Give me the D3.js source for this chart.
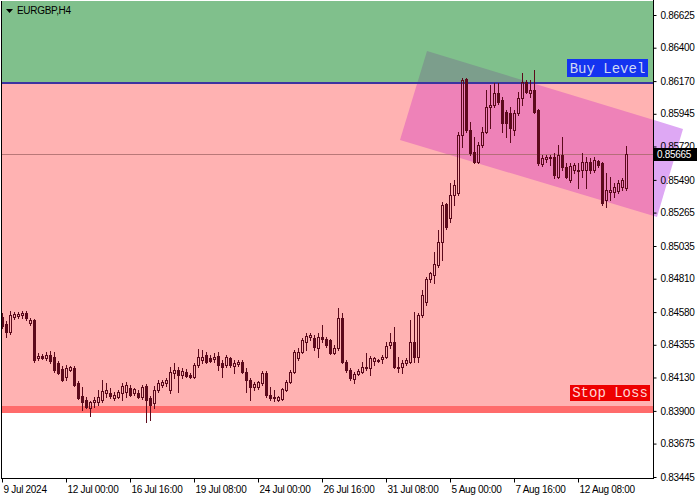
<!DOCTYPE html>
<html><head><meta charset="utf-8">
<script src="https://cdn.jsdelivr.net/npm/d3@7/dist/d3.min.js"></script>
<style>html,body{margin:0;padding:0;background:#fff;}svg{display:block;}</style>
</head><body>
<script>
const symbolLabel = "EURGBP,H4";
const opens = [0.84547,0.84499,0.84444,0.84547,0.84554,0.84561,0.84574,0.84506,0.84527,0.84265,
0.84279,0.84265,0.84286,0.84272,0.84230,0.84189,0.84135,0.84183,0.84196,0.84093,
0.84004,0.83976,0.83921,0.83962,0.83962,0.83976,0.84024,0.84024,0.83990,0.83997,
0.84024,0.84031,0.84059,0.84024,0.84024,0.83997,0.84073,0.83990,0.83955,0.84045,
0.84080,0.84093,0.84045,0.84162,0.84183,0.84148,0.84169,0.84148,0.84135,0.84217,
0.84251,0.84286,0.84265,0.84258,0.84279,0.84230,0.84217,0.84265,0.84210,0.84223,
0.84237,0.84169,0.84114,0.84066,0.84066,0.84093,0.84162,0.84011,0.83990,0.83976,
0.83983,0.84045,0.84100,0.84169,0.84265,0.84306,0.84375,0.84410,0.84403,0.84334,
0.84410,0.84396,0.84389,0.84299,0.84334,0.84540,0.84237,0.84183,0.84121,0.84155,
0.84169,0.84203,0.84196,0.84244,0.84244,0.84258,0.84272,0.84355,0.84375,0.84203,
0.84203,0.84230,0.84237,0.84375,0.84272,0.84561,0.84650,0.84809,0.84837,0.84905,
0.85063,0.85324,0.85228,0.85387,0.85400,0.85800,0.86185,0.85834,0.85682,0.85613,
0.85731,0.85820,0.85992,0.86006,0.86088,0.86040,0.85957,0.85950,0.85834,0.85950,
0.86054,0.86164,0.86088,0.86109,0.85971,0.85599,0.85634,0.85648,0.85648,0.85511,
0.85662,0.85579,0.85490,0.85559,0.85559,0.85559,0.85559,0.85613,0.85559,0.85620,
0.85606,0.85352,0.85407,0.85407,0.85414,0.85442,0.85435];
const highs = [0.84574,0.84520,0.84588,0.84581,0.84581,0.84588,0.84588,0.84540,0.84533,0.84299,
0.84292,0.84306,0.84313,0.84306,0.84244,0.84210,0.84217,0.84210,0.84210,0.84107,
0.84066,0.83997,0.83969,0.83997,0.84045,0.84114,0.84093,0.84059,0.84031,0.84045,
0.84093,0.84100,0.84080,0.84059,0.84045,0.84080,0.84086,0.84004,0.84073,0.84114,
0.84114,0.84128,0.84203,0.84230,0.84203,0.84196,0.84189,0.84162,0.84230,0.84327,
0.84320,0.84306,0.84286,0.84299,0.84306,0.84251,0.84286,0.84272,0.84251,0.84251,
0.84251,0.84196,0.84128,0.84100,0.84107,0.84176,0.84176,0.84066,0.84045,0.84004,
0.84059,0.84114,0.84183,0.84320,0.84334,0.84403,0.84437,0.84437,0.84424,0.84437,
0.84493,0.84410,0.84396,0.84355,0.84609,0.84574,0.84251,0.84196,0.84169,0.84189,
0.84237,0.84299,0.84279,0.84272,0.84258,0.84286,0.84375,0.84437,0.84479,0.84272,
0.84251,0.84265,0.84527,0.84581,0.84574,0.84733,0.84823,0.84857,0.84994,0.85146,
0.85338,0.85331,0.85469,0.85490,0.85820,0.86192,0.86192,0.85889,0.85786,0.85751,
0.85855,0.86109,0.86144,0.86157,0.86157,0.86061,0.85971,0.85992,0.85971,0.86095,
0.86226,0.86178,0.86178,0.86247,0.85978,0.85662,0.85662,0.85662,0.85676,0.85731,
0.85786,0.85606,0.85606,0.85606,0.85606,0.85676,0.85648,0.85641,0.85648,0.85627,
0.85613,0.85538,0.85511,0.85469,0.85490,0.85504,0.85724];
const lows = [0.84472,0.84410,0.84430,0.84533,0.84540,0.84540,0.84527,0.84493,0.84237,0.84251,
0.84258,0.84251,0.84230,0.84169,0.84155,0.84107,0.84114,0.84176,0.84073,0.83983,
0.83907,0.83921,0.83866,0.83928,0.83942,0.83962,0.83997,0.83990,0.83976,0.83990,
0.83976,0.83997,0.84004,0.84011,0.83990,0.83983,0.83825,0.83839,0.83921,0.84031,
0.84066,0.84073,0.84024,0.84128,0.84031,0.84128,0.84135,0.84128,0.84128,0.84203,
0.84230,0.84230,0.84237,0.84237,0.84183,0.84135,0.84203,0.84203,0.84162,0.84210,
0.84162,0.84031,0.83976,0.84045,0.84052,0.84080,0.83997,0.83976,0.83969,0.83969,
0.83976,0.84038,0.84093,0.84162,0.84251,0.84299,0.84320,0.84389,0.84320,0.84272,
0.84375,0.84341,0.84292,0.84292,0.84320,0.84230,0.84169,0.84114,0.84093,0.84148,
0.84162,0.84183,0.84148,0.84217,0.84237,0.84230,0.84265,0.84334,0.84196,0.84169,
0.84162,0.84217,0.84230,0.84237,0.84237,0.84547,0.84630,0.84788,0.84781,0.84891,
0.84939,0.85153,0.85201,0.85318,0.85387,0.85717,0.85820,0.85662,0.85606,0.85606,
0.85717,0.85813,0.85848,0.85992,0.86012,0.85820,0.85786,0.85751,0.85800,0.85937,
0.86006,0.86088,0.86061,0.85950,0.85593,0.85586,0.85613,0.85593,0.85504,0.85504,
0.85559,0.85504,0.85476,0.85538,0.85435,0.85511,0.85435,0.85538,0.85545,0.85579,
0.85318,0.85304,0.85352,0.85373,0.85400,0.85421,0.85421];
const closes = [0.84486,0.84444,0.84561,0.84567,0.84567,0.84574,0.84540,0.84527,0.84251,0.84279,
0.84265,0.84286,0.84244,0.84183,0.84162,0.84114,0.84196,0.84203,0.84080,0.83990,
0.83962,0.83928,0.83962,0.83976,0.83997,0.84038,0.84045,0.84004,0.84011,0.84031,
0.84073,0.84080,0.84011,0.84052,0.83997,0.84066,0.83976,0.83942,0.84045,0.84093,
0.84100,0.84114,0.84169,0.84183,0.84148,0.84176,0.84141,0.84135,0.84217,0.84272,
0.84272,0.84237,0.84244,0.84272,0.84217,0.84203,0.84272,0.84217,0.84230,0.84237,
0.84169,0.84114,0.84066,0.84086,0.84100,0.84162,0.84011,0.83990,0.83997,0.83997,
0.84052,0.84100,0.84169,0.84306,0.84306,0.84389,0.84417,0.84424,0.84341,0.84410,
0.84396,0.84355,0.84299,0.84334,0.84540,0.84237,0.84183,0.84128,0.84155,0.84176,
0.84203,0.84196,0.84265,0.84265,0.84251,0.84272,0.84348,0.84375,0.84203,0.84196,
0.84230,0.84251,0.84375,0.84272,0.84561,0.84699,0.84809,0.84850,0.84911,0.85063,
0.85318,0.85167,0.85387,0.85456,0.85800,0.86178,0.85834,0.85676,0.85613,0.85731,
0.85820,0.85992,0.86006,0.86088,0.86026,0.85882,0.85882,0.85848,0.85950,0.86054,
0.86164,0.86095,0.86109,0.85957,0.85606,0.85641,0.85648,0.85641,0.85524,0.85662,
0.85579,0.85511,0.85586,0.85593,0.85552,0.85613,0.85613,0.85559,0.85627,0.85593,
0.85331,0.85421,0.85421,0.85442,0.85469,0.85490,0.85665];
const yTickValues = [0.86625,0.86400,0.86170,0.85945,0.85720,0.85490,0.85265,0.85035,0.84810,0.84580,0.84355,0.84130,0.83900,0.83675,0.83445];
const xTickIndex = [0,16,32,48,64,80,96,112,128,144];
const xTickLabels = ["9 Jul 2024","12 Jul 00:00","16 Jul 16:00","19 Jul 08:00","24 Jul 00:00","26 Jul 16:00","31 Jul 08:00","5 Aug 00:00","7 Aug 16:00","12 Aug 08:00"];
const buyLevel = 0.86157;
const stopLoss = 0.83910;
const currentPrice = 0.85665;
// channel corners: [bar index, price]
const channelCorners = [[106.25,0.86377],[170.25,0.85841],[163.75,0.85235],[99.5,0.85765]];

const W = 700, H = 500;
const plotL = 2, plotR = 653, plotT = 1, plotB = 478;
const svg = d3.select("body").append("svg").attr("width",W).attr("height",H);
const x = d3.scaleLinear().domain([0,156]).range([2,626]);
const y = d3.scaleLinear().domain([0.83445,0.86625]).range([477,15]);

svg.append("rect").attr("width",W).attr("height",H).attr("fill","#fff");
const yBuy = Math.round(y(buyLevel)), ySL = Math.round(y(stopLoss));
svg.append("rect").attr("x",plotL).attr("y",plotT).attr("width",plotR-plotL).attr("height",yBuy-plotT).attr("fill","#80c08c");
svg.append("rect").attr("x",plotL).attr("y",yBuy).attr("width",plotR-plotL).attr("height",ySL-yBuy).attr("fill","#ffb2b2");

const defs = svg.append("defs");
function clip(id,x0,y0,w,h){defs.append("clipPath").attr("id",id).append("rect").attr("x",x0).attr("y",y0).attr("width",w).attr("height",h);}
clip("cG",plotL,plotT,plotR-plotL,yBuy-plotT);
clip("cP",plotL,yBuy,plotR-plotL,ySL-yBuy);
clip("cO",plotR+1,0,W-plotR,H);
const poly = channelCorners.map(d=>[x(d[0]),y(d[1])].join(",")).join(" ");
[["cG","#7c9e8c"],["cP","#ee82b8"],["cO","#dea8f4"]].forEach(([id,col])=>{
  svg.append("polygon").attr("points",poly).attr("fill",col).attr("clip-path",`url(#${id})`);
});

// stop loss band
svg.append("rect").attr("x",plotL).attr("y",ySL-3).attr("width",plotR-plotL).attr("height",7).attr("fill","#ff6b6b");
// current price line
svg.append("line").attr("x1",plotL).attr("x2",plotR).attr("y1",Math.round(y(currentPrice))+0.5).attr("y2",Math.round(y(currentPrice))+0.5)
  .attr("stroke","#a86a6a").attr("stroke-width",1).attr("opacity",0.8);
// buy level line
svg.append("rect").attr("x",plotL).attr("y",yBuy-1).attr("width",plotR-plotL).attr("height",2).attr("fill","#3c34a0");

// candles
const candleCol = "#5c0a1c";
const cg = svg.append("g");
d3.range(opens.length).forEach(i=>{
  const o=opens[i], h=highs[i], l=lows[i], c=closes[i];
  const cx = Math.round(x(i));
  const yH = Math.round(y(h)), yL = Math.round(y(l));
  const yT = Math.round(y(Math.max(o,c))), yB = Math.round(y(Math.min(o,c)));
  if (c < o) {
    cg.append("rect").attr("x",cx).attr("y",yH).attr("width",1).attr("height",Math.max(1,yL-yH+1)).attr("fill",candleCol);
    cg.append("rect").attr("x",cx-1).attr("y",yT).attr("width",3).attr("height",Math.max(1,yB-yT+1)).attr("fill",candleCol);
  } else {
    if (yT>yH) cg.append("rect").attr("x",cx).attr("y",yH).attr("width",1).attr("height",yT-yH).attr("fill",candleCol);
    if (yL>yB) cg.append("rect").attr("x",cx).attr("y",yB+1).attr("width",1).attr("height",yL-yB).attr("fill",candleCol);
    if (yB-yT<2) {
      cg.append("rect").attr("x",cx-1).attr("y",yT).attr("width",3).attr("height",Math.max(1,yB-yT+1)).attr("fill",candleCol);
    } else {
      cg.append("rect").attr("x",cx-0.5).attr("y",yT+0.5).attr("width",2).attr("height",yB-yT).attr("fill","none").attr("stroke",candleCol).attr("stroke-width",1);
    }
  }
});

// labels
function boxLabel(txt,x0,y0,w,h,bg,fg){
  svg.append("rect").attr("x",x0).attr("y",y0).attr("width",w).attr("height",h).attr("fill",bg);
  svg.append("text").attr("x",x0+w/2).attr("y",y0+h-4).attr("text-anchor","middle").attr("fill",fg)
    .style("font-family","'Liberation Mono', 'DejaVu Sans Mono', monospace").style("font-size","14px").text(txt);
}
boxLabel("Buy Level",567,59,81,18,"#1434f0","#d0d8f4");
boxLabel("Stop Loss",570,385,80,16,"#ee0000","#ffd6d6");

// frame
svg.append("line").attr("x1",1.5).attr("x2",1.5).attr("y1",plotT).attr("y2",plotB+1).attr("stroke","#000");
svg.append("line").attr("x1",plotR+0.5).attr("x2",plotR+0.5).attr("y1",0).attr("y2",plotB+1).attr("stroke","#000");
svg.append("line").attr("x1",1).attr("x2",plotR+1).attr("y1",plotB+0.5).attr("y2",plotB+0.5).attr("stroke","#000");

const font = "'Liberation Sans', Arial, sans-serif";
const yAx = svg.append("g").attr("transform",`translate(${plotR+0.5},0)`)
  .call(d3.axisRight(y).tickValues(yTickValues).tickSize(3).tickPadding(4).tickFormat(d3.format(".5f")));
yAx.select(".domain").remove();
yAx.selectAll("line").attr("stroke","#000");
yAx.selectAll("text").attr("fill","#000").style("font-family",font).style("font-size","10px").style("letter-spacing","-0.3px");

const xAx = svg.append("g").attr("transform",`translate(0,${plotB+0.5})`)
  .call(d3.axisBottom(x).tickValues(xTickIndex).tickSize(4).tickPadding(3).tickFormat((d,i)=>xTickLabels[i]));
xAx.select(".domain").remove();
xAx.selectAll("line").attr("stroke","#000");
xAx.selectAll("text").attr("fill","#000").attr("text-anchor","start").attr("dx","1")
  .style("font-family",font).style("font-size","10px").style("letter-spacing","-0.3px");

// current price tag
const yCP = Math.round(y(currentPrice));
svg.append("rect").attr("x",plotR+1).attr("y",yCP-6).attr("width",43).attr("height",13).attr("fill","#000");
svg.append("text").attr("x",plotR+4).attr("y",yCP+4).attr("fill","#fff").style("font-family",font).style("font-size","10px")
  .style("letter-spacing","-0.3px").text(d3.format(".5f")(currentPrice));

// symbol label
svg.append("path").attr("d","M6,9 L13,9 L9.5,13 Z").attr("fill","#000");
svg.append("text").attr("x",17).attr("y",14).attr("fill","#000").style("font-family",font).style("font-size","10px")
  .style("letter-spacing","-0.3px").text(symbolLabel);
</script>
</body></html>
